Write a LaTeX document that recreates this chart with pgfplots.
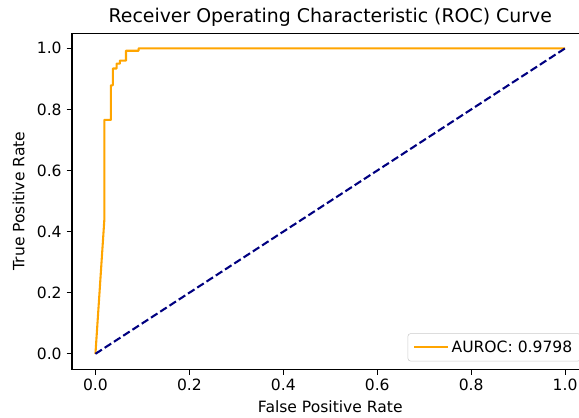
\documentclass[border=0pt]{standalone}
\usepackage{pgfplots}
\pgfplotsset{compat=1.18}
\usepackage{fontspec}
\setmainfont{DejaVu Sans}
\setsansfont{DejaVu Sans}
\definecolor{rocorange}{RGB}{255,165,0}
\definecolor{rocnavy}{RGB}{0,0,128}
\begin{document}
\begin{tikzpicture}
\clip (-51.8pt,-34.6pt) rectangle (365pt,265.7pt);
\begin{axis}[
  scale only axis,
  width=371.9pt,
  height=241.9pt,
  xmin=-0.05, xmax=1.05,
  ymin=-0.05, ymax=1.05,
  xtick={0,0.2,0.4,0.6,0.8,1.0},
  ytick={0,0.2,0.4,0.6,0.8,1.0},
  xticklabel style={/pgf/number format/.cd,fixed,fixed zerofill,precision=1},
  yticklabel style={/pgf/number format/.cd,fixed,fixed zerofill,precision=1},
  /pgf/number format/assume math mode=true,
  tick align=outside,
  tick pos=left,
  major tick length=3.9pt,
  tick style={black, line width=0.8pt},
  axis line style={line width=0.8pt},
  font=\fontsize{11.2pt}{13pt}\selectfont,
  title={Receiver Operating Characteristic (ROC) Curve},
  title style={font=\fontsize{13.6pt}{16pt}\selectfont, yshift=-5pt},
  xlabel={False Positive Rate},
  ylabel={True Positive Rate},
  ylabel style={yshift=2pt},
  legend style={at={(0.985,0.023)}, anchor=south east, draw=black!20,
    fill=white, fill opacity=0.8, text opacity=1, rounded corners=2pt,
    font=\fontsize{11.2pt}{13pt}\selectfont, inner xsep=4pt, inner ysep=3pt},
  legend cell align=left,
  legend image code/.code={\draw[#1] (0pt,0pt) -- (24pt,0pt);},
]
\addplot[color=rocorange, line width=1.5pt, line join=round] coordinates {
  (0,0) (0.019,0.44) (0.019,0.766) (0.033,0.766) (0.033,0.879)
  (0.037,0.879) (0.037,0.934) (0.045,0.934) (0.045,0.95) (0.052,0.95)
  (0.052,0.96) (0.065,0.96) (0.065,0.992) (0.092,0.992) (0.092,1.0) (1,1)
};
\addlegendentry{AUROC: 0.9798}
\addplot[color=rocnavy, line width=1.5pt, dash pattern=on 5.55pt off 2.4pt, forget plot] coordinates {(0,0) (1,1)};
\end{axis}
\end{tikzpicture}
\end{document}
